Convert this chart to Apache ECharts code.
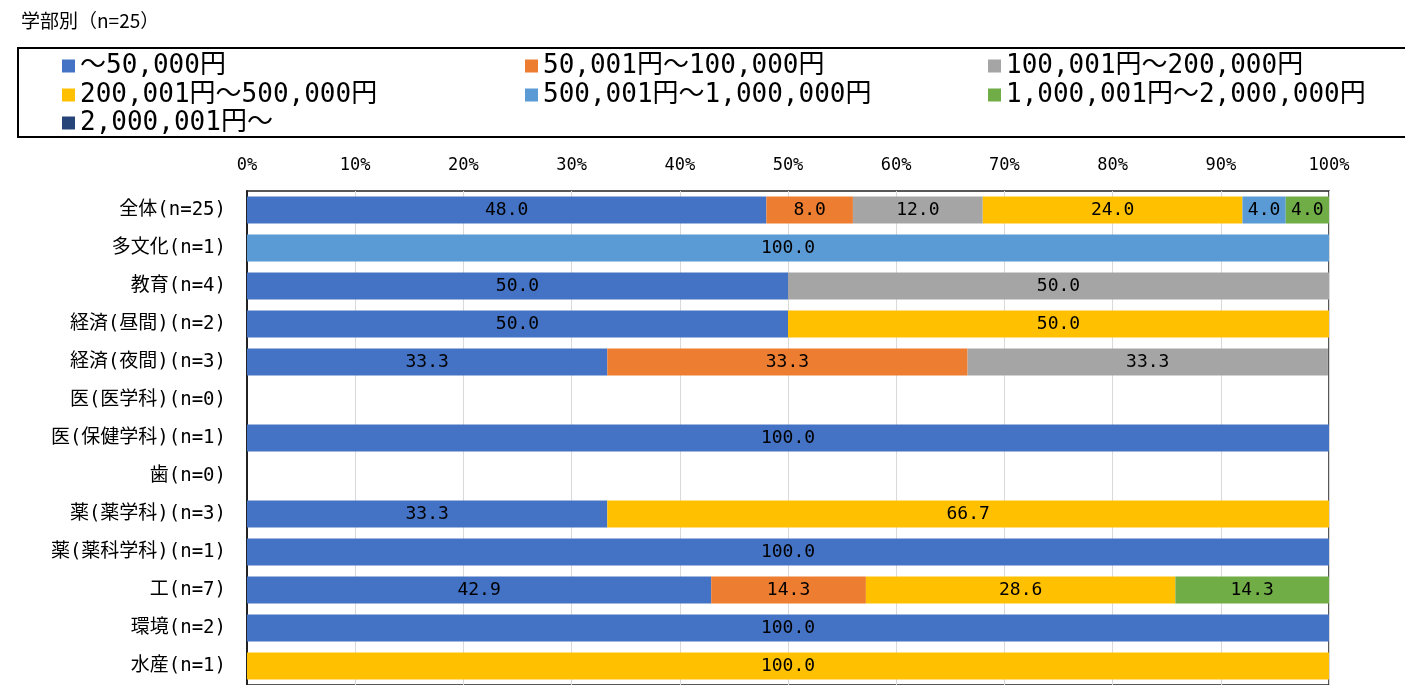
<!DOCTYPE html>
<html>
<head>
<meta charset="utf-8">
<script src="https://cdn.jsdelivr.net/npm/echarts@6/dist/echarts.min.js"></script>
<style>html,body{margin:0;padding:0;background:#fff;}#c{width:1405px;height:685px;}</style>
</head>
<body>
<div id="c"></div>
<script>
const titleText = '学部別（n=25）';
const categories = ['全体(n=25)','多文化(n=1)','教育(n=4)','経済(昼間)(n=2)','経済(夜間)(n=3)','医(医学科)(n=0)','医(保健学科)(n=1)','歯(n=0)','薬(薬学科)(n=3)','薬(薬科学科)(n=1)','工(n=7)','環境(n=2)','水産(n=1)'];
const seriesNames = ['～50,000円','50,001円～100,000円','100,001円～200,000円','200,001円～500,000円','500,001円～1,000,000円','1,000,001円～2,000,000円','2,000,001円～'];
const colors = ['#4472C4','#ED7D31','#A5A5A5','#FFC000','#5B9BD5','#70AD47','#264478'];
const s1 = [48.0, 0, 50.0, 50.0, 33.3, 0, 100.0, 0, 33.3, 100.0, 42.9, 100.0, 0];
const s2 = [8.0, 0, 0, 0, 33.3, 0, 0, 0, 0, 0, 14.3, 0, 0];
const s3 = [12.0, 0, 50.0, 0, 33.3, 0, 0, 0, 0, 0, 0, 0, 0];
const s4 = [24.0, 0, 0, 50.0, 0, 0, 0, 0, 66.7, 0, 28.6, 0, 100.0];
const s5 = [4.0, 100.0, 0, 0, 0, 0, 0, 0, 0, 0, 0, 0, 0];
const s6 = [4.0, 0, 0, 0, 0, 0, 0, 0, 0, 0, 14.3, 0, 0];
const s7 = [0, 0, 0, 0, 0, 0, 0, 0, 0, 0, 0, 0, 0];

const allData = [s1,s2,s3,s4,s5,s6,s7];
const monoCJK = '"DejaVu Sans Mono", "Noto Sans CJK JP", sans-serif';
const cjk = '"Noto Sans CJK JP", sans-serif';

const legendPos = [[62,64],[525,64],[988,64],[62,93],[525,93],[988,93],[62,121]];
const legends = seriesNames.map((n,i)=>({
  data:[n], left: legendPos[i][0], top: legendPos[i][1]-11, padding:0,
  icon:'rect', itemWidth:13, itemHeight:13, selectedMode:false,
  textStyle:{fontFamily: monoCJK, fontSize:26, color:'#000'}
}));

const chart = echarts.init(document.getElementById('c'));
chart.setOption({
  animation:false,
  color: colors,
  title:{text:titleText, left:16, top:6, textStyle:{fontFamily:cjk, fontSize:19, fontWeight:'normal', color:'#000'}},
  legend: legends,
  graphic:[{type:'rect', shape:{x:18, y:48, width:1400, height:89}, style:{fill:'none', stroke:'#000', lineWidth:2}}],
  grid:{left:247, top:191, width:1082, height:498, show:true, borderColor:'#222', borderWidth:1.5, containLabel:false},
  xAxis:{type:'value', position:'top', min:0, max:100, interval:10,
    axisLine:{show:false}, axisTick:{show:false},
    axisLabel:{formatter: v => v + '%', fontFamily: monoCJK, fontSize:17, color:'#000', margin:17},
    splitLine:{show:true, lineStyle:{color:'#D9D9D9', width:1}}},
  yAxis:{type:'category', data:categories, inverse:true,
    axisLine:{show:true, lineStyle:{color:'#222', width:2}}, axisTick:{show:false},
    axisLabel:{fontFamily:monoCJK, fontSize:19, color:'#000', margin:21}},
  series: seriesNames.map((n,i)=>({
    name:n, type:'bar', stack:'total', barWidth:27, data: allData[i],
    itemStyle:{color: colors[i]},
    label:{show:true, position:'inside', color:'#000', fontFamily: monoCJK, fontSize:18,
      formatter: p => p.value > 0 ? p.value.toFixed(1) : ''}
  }))
});
</script>
</body>
</html>
